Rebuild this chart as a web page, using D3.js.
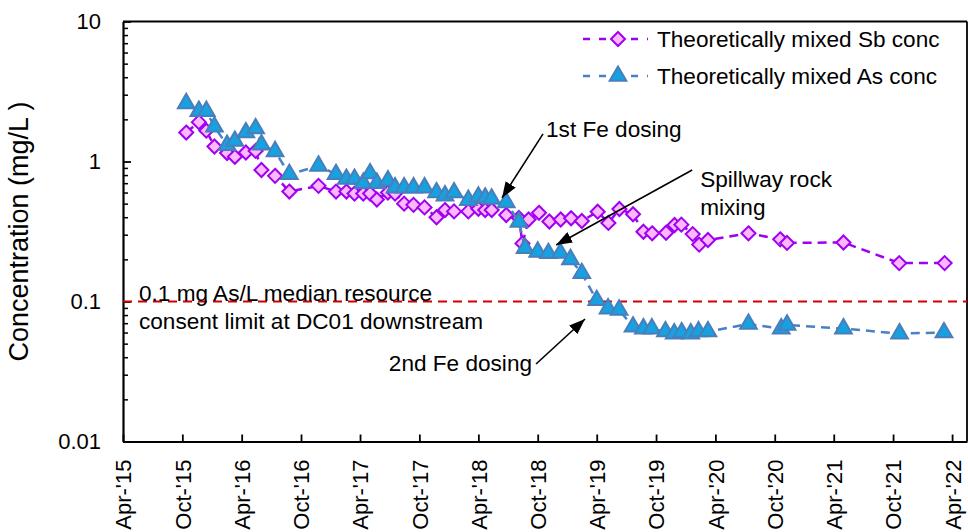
<!DOCTYPE html>
<html><head><meta charset="utf-8">
<script src="https://cdn.jsdelivr.net/npm/d3@7"></script>
<style>
html,body{margin:0;padding:0;background:#fff;}
svg{display:block;font-family:"Liberation Sans",Arial,sans-serif;}
</style></head>
<body><svg id="c" width="968" height="532"></svg>
<script>
// ---- data ----
const sbDates = ["2015-10-13","2015-11-21","2015-12-14","2016-01-08","2016-02-16","2016-03-11","2016-04-14","2016-05-14","2016-06-01","2016-07-13","2016-08-26","2016-11-24","2017-01-17","2017-02-18","2017-03-15","2017-04-11","2017-05-02","2017-05-23","2017-06-26","2017-07-18","2017-08-15","2017-09-13","2017-10-17","2017-11-23","2017-12-19","2018-01-16","2018-03-01","2018-04-01","2018-04-22","2018-05-12","2018-06-26","2018-08-04","2018-08-15","2018-09-03","2018-10-05","2018-11-06","2018-12-11","2019-01-12","2019-02-14","2019-04-04","2019-05-07","2019-06-10","2019-07-22","2019-08-23","2019-09-19","2019-11-01","2019-11-27","2019-12-18","2020-01-22","2020-02-11","2020-03-09","2020-07-12","2020-10-18","2020-11-08","2021-05-01","2021-10-20","2022-03-09"];
const sbConc = [1.61,1.91,1.66,1.28,1.15,1.08,1.16,1.19,0.87,0.79,0.61,0.67,0.61,0.61,0.59,0.59,0.59,0.535,0.60,0.59,0.50,0.49,0.47,0.40,0.45,0.44,0.44,0.46,0.45,0.45,0.415,0.395,0.26,0.385,0.43,0.373,0.385,0.393,0.376,0.438,0.364,0.458,0.42,0.315,0.307,0.31,0.352,0.354,0.303,0.255,0.275,0.307,0.278,0.262,0.264,0.188,0.188];
const asDates = ["2015-10-13","2015-11-21","2015-12-14","2016-01-08","2016-02-16","2016-03-11","2016-04-14","2016-05-14","2016-06-01","2016-07-13","2016-08-26","2016-11-24","2017-01-17","2017-02-18","2017-03-15","2017-04-11","2017-05-02","2017-05-23","2017-06-26","2017-07-18","2017-08-15","2017-09-13","2017-10-17","2017-11-23","2017-12-19","2018-01-16","2018-03-01","2018-04-01","2018-04-22","2018-05-12","2018-06-26","2018-08-04","2018-08-23","2018-10-01","2018-11-03","2018-12-10","2019-01-10","2019-02-14","2019-04-01","2019-05-06","2019-06-09","2019-07-22","2019-08-23","2019-09-18","2019-10-30","2019-11-26","2019-12-19","2020-01-16","2020-02-09","2020-03-09","2020-07-12","2020-10-21","2020-11-08","2021-05-01","2021-10-21","2022-03-07"];
const asConc = [2.60,2.29,2.29,1.77,1.31,1.40,1.61,1.72,1.32,1.18,0.81,0.93,0.81,0.75,0.75,0.70,0.82,0.70,0.73,0.65,0.65,0.65,0.65,0.60,0.57,0.60,0.53,0.56,0.55,0.54,0.51,0.37,0.24,0.226,0.221,0.222,0.20,0.159,0.102,0.089,0.087,0.066,0.064,0.064,0.061,0.059,0.060,0.059,0.061,0.061,0.069,0.064,0.068,0.064,0.059,0.060];
const xTickDates = ["2015-04-01","2015-10-01","2016-04-01","2016-10-01","2017-04-01","2017-10-01","2018-04-01","2018-10-01","2019-04-01","2019-10-01","2020-04-01","2020-10-01","2021-04-01","2021-10-01","2022-04-01"];
const yMajorTicks = [0.01,0.1,1,10];
const yTickLabels = ["0.01","0.1","1","10"];
const limitValue = 0.1;
const seriesNames = ["Theoretically mixed Sb conc","Theoretically mixed As conc"];
const limitText = ["0.1 mg As/L median resource","consent limit at DC01 downstream"];
const annotations = [
  {lines:["1st Fe dosing"], date:"2018-06-13", value:0.55},
  {lines:["Spillway rock","mixing"], date:"2018-11-27", value:0.253},
  {lines:["2nd Fe dosing"], date:"2019-02-24", value:0.075}
];

// ---- chart ----
const parse = d3.timeParse("%Y-%m-%d");
const svg = d3.select("#c");
const L = 123, R = 967, T = 21.5, B = 441.5;
const x = d3.scaleTime().domain([parse("2015-04-01"), parse("2022-05-17")]).range([L, R]);
const y = d3.scaleLog().domain([0.01, 10]).range([B, T]);

const SB = {line:"#a000f0", fill:"#ffb8ff", stroke:"#a000f0"};
const AS = {line:"#4a80c4", fill:"#16a2e0", stroke:"#4a7ebb"};
const FS = 22;
const FS2 = 22.6;

// minor y ticks
const minor = [];
for (let e = -2; e < 1; e++) for (let k = 2; k <= 9; k++) minor.push(k * Math.pow(10, e));
svg.append("g").attr("transform", `translate(${L},0)`)
  .call(d3.axisLeft(y).tickValues(minor).tickSize(-5).tickFormat(""))
  .call(g => g.select(".domain").remove())
  .selectAll("line").attr("stroke", "#000").attr("stroke-width", 1.5);

// major y axis
const ya = svg.append("g").attr("transform", `translate(${L},0)`)
  .call(d3.axisLeft(y).tickValues(yMajorTicks).tickSizeInner(-8).tickSizeOuter(0).tickPadding(22)
    .tickFormat((d, i) => yTickLabels[i]));
ya.select(".domain").attr("stroke", "#000").attr("stroke-width", 2.2);
ya.selectAll("line").attr("stroke", "#000").attr("stroke-width", 1.8);
ya.selectAll("text").attr("font-size", FS).attr("fill", "#000").attr("font-family", "Liberation Sans, Arial, sans-serif");

// x axis
const xa = svg.append("g").attr("transform", `translate(0,${B})`)
  .call(d3.axisBottom(x).tickValues(xTickDates.map(parse)).tickSizeInner(-7).tickSizeOuter(0)
    .tickFormat(d3.timeFormat("%b-'%y")));
xa.select(".domain").attr("stroke", "#000").attr("stroke-width", 2.2);
xa.selectAll("line").attr("stroke", "#000").attr("stroke-width", 1.8);
xa.selectAll("text").attr("font-size", FS).attr("fill", "#000")
  .attr("font-family", "Liberation Sans, Arial, sans-serif")
  .attr("transform", "rotate(-90)").attr("text-anchor", "end")
  .attr("x", -18).attr("y", 0).attr("dy", "0.36em");

// frame top and right
svg.append("line").attr("x1", L).attr("x2", R).attr("y1", T).attr("y2", T).attr("stroke", "#000").attr("stroke-width", 1.8);
svg.append("line").attr("x1", R).attr("x2", R).attr("y1", T).attr("y2", B).attr("stroke", "#000").attr("stroke-width", 1.8);

// y title
svg.append("text").attr("transform", `translate(28,${(T + B) / 2}) rotate(-90)`)
  .attr("text-anchor", "middle").attr("font-size", 27).text("Concentration (mg/L )");

// limit line
svg.append("line").attr("x1", L).attr("x2", R).attr("y1", y(limitValue)).attr("y2", y(limitValue))
  .attr("stroke", "#d00000").attr("stroke-width", 2.2).attr("stroke-dasharray", "9,6");
svg.append("g").selectAll("text").data(limitText).join("text")
  .attr("x", L + 16).attr("y", (d, i) => y(limitValue) - 1 + i * 28)
  .attr("font-size", FS2).text(d => d);

// series
const sbData = sbDates.map((d, i) => ({d: parse(d), v: sbConc[i]}));
const asData = asDates.map((d, i) => ({d: parse(d), v: asConc[i]}));
const lineGen = d3.line().x(p => x(p.d)).y(p => y(p.v));
const diamond = d3.symbol().type(d3.symbolDiamond2).size(125);
const tri = d3.symbol().type(d3.symbolTriangle).size(120);

function drawSeries(data, col, sym) {
  svg.append("path").datum(data).attr("d", lineGen).attr("fill", "none")
    .attr("stroke", col.line).attr("stroke-width", 2.5).attr("stroke-dasharray", "9,6");
  svg.append("g").selectAll("path").data(data).join("path")
    .attr("transform", p => `translate(${x(p.d)},${y(p.v)})`)
    .attr("d", sym).attr("fill", col.fill).attr("stroke", col.stroke).attr("stroke-width", 2);
}
drawSeries(sbData, SB, diamond);
drawSeries(asData, AS, tri);

// annotations
svg.append("defs").append("marker").attr("id", "ah").attr("viewBox", "0 0 16 12")
  .attr("refX", 16).attr("refY", 6).attr("markerWidth", 16).attr("markerHeight", 12)
  .attr("markerUnits", "userSpaceOnUse").attr("orient", "auto")
  .append("path").attr("d", "M0,0 L16,6 L0,12 Z").attr("fill", "#000");
const annoLayout = [
  {tail:[41, -64], text:[44, -61], anchor:"start"},
  {tail:[136, -75], text:[144, -58], anchor:"start"},
  {tail:[-49, 45], text:[-53, 52], anchor:"end"}
];
annotations.forEach((a, i) => {
  const tx = x(parse(a.date)), ty = y(a.value), lay = annoLayout[i];
  svg.append("line").attr("x1", tx + lay.tail[0]).attr("y1", ty + lay.tail[1]).attr("x2", tx).attr("y2", ty)
    .attr("stroke", "#000").attr("stroke-width", 1.6).attr("marker-end", "url(#ah)");
  a.lines.forEach((t, j) => {
    svg.append("text").attr("x", tx + lay.text[0]).attr("y", ty + lay.text[1] + j * 28)
      .attr("text-anchor", lay.anchor).attr("font-size", FS2).text(t);
  });
});

// legend
const leg = svg.append("g");
[[SB, diamond, 39], [AS, tri, 76]].forEach(([col, sym, yy], i) => {
  leg.append("line").attr("x1", 583).attr("x2", 648).attr("y1", yy).attr("y2", yy)
    .attr("stroke", col.line).attr("stroke-width", 2.5).attr("stroke-dasharray", "7,9");
  leg.append("path").attr("transform", `translate(618,${yy})`).attr("d", sym)
    .attr("fill", col.fill).attr("stroke", col.stroke).attr("stroke-width", 2);
  leg.append("text").attr("x", 657).attr("y", yy + 8).attr("font-size", FS2).text(seriesNames[i]);
});
</script></body></html>
